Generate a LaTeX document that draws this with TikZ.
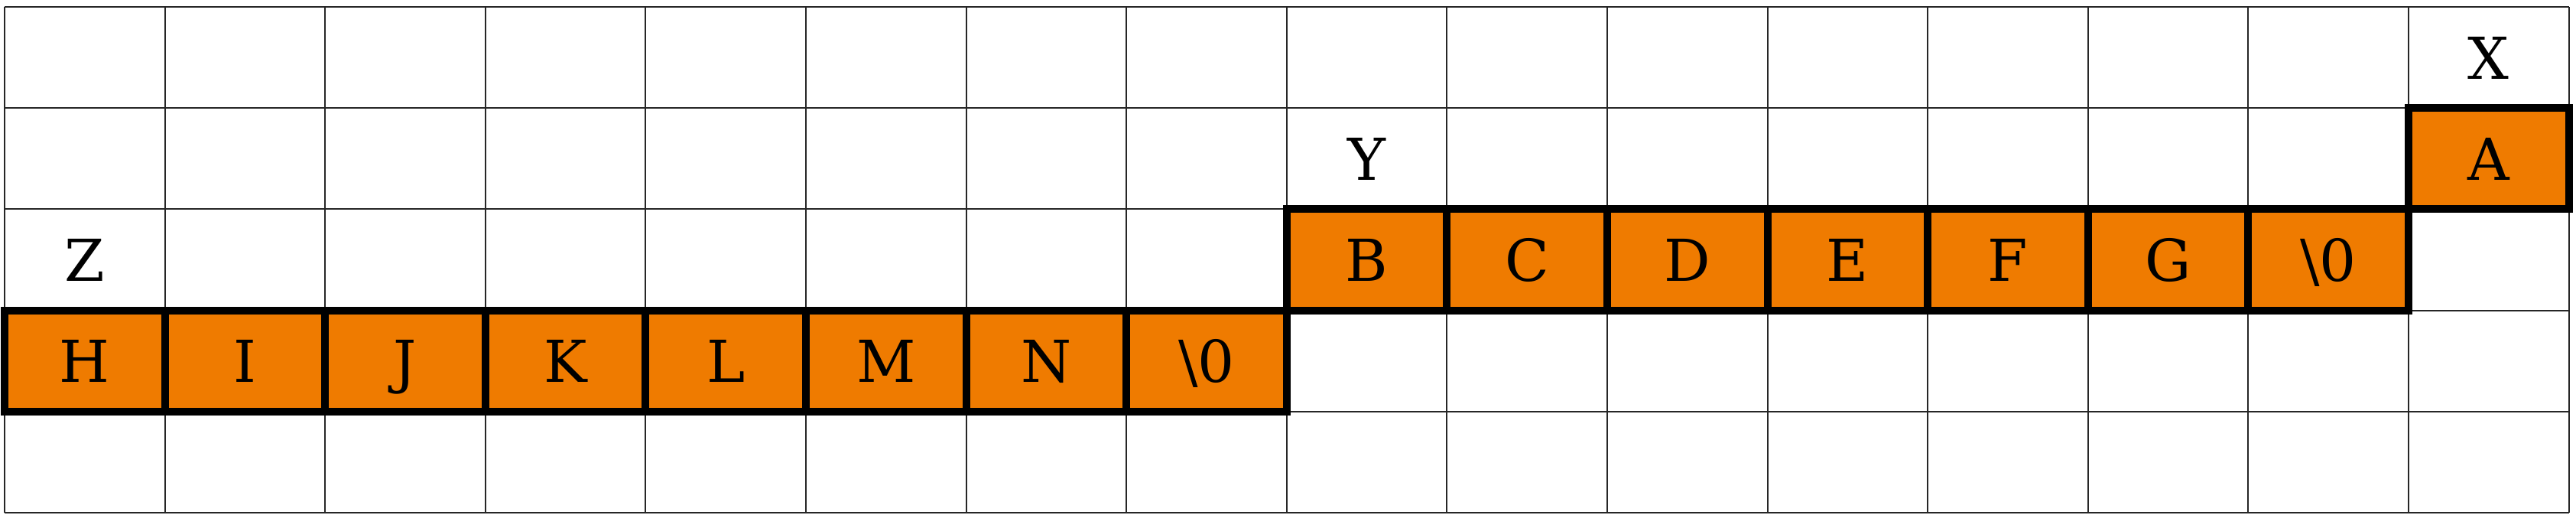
\documentclass[tikz,border=0pt]{standalone}
\usepackage{fontspec}
\setmainfont{DejaVu Serif}
\usepackage{xcolor}
\usetikzlibrary{positioning}
\definecolor{cellorange}{RGB}{239,123,0}

\begin{document}
\begin{tikzpicture}
\tikzset{strcell/.style={rectangle,draw,fill=cellorange,line width=0.1cm,minimum width=2.096cm,minimum height=1.322cm,inner sep=0pt,outer sep=0pt,text height=15.9pt,text depth=0pt,font=\fontsize{21.5}{26}\selectfont},
ptrlabel/.style={inner sep=0pt,text height=15.9pt,text depth=0pt,font=\fontsize{21.5}{26}\selectfont}}
\useasboundingbox (0,0) rectangle (33.69,6.72);
\begin{scope}[shift={(0.06,0.02)},x=2.096cm,y=1.322cm]
\foreach \c in {0,...,16} \draw[line width=0.02cm,black!85] (\c,0) -- (\c,5);
\foreach \r in {0,...,5} \draw[line width=0.02cm,black!85] (0,\r) -- (16,\r);
% string at X
\node[strcell](a) at (15.5,3.5){A};
\node[ptrlabel](x) at (15.5,4.5){X};
% string at Y
\node[strcell](b) at (8.5,2.5){B};
\node[strcell](c)[right=0pt of b]{C};
\node[strcell](d)[right=0pt of c]{D};
\node[strcell](e)[right=0pt of d]{E};
\node[strcell](f)[right=0pt of e]{F};
\node[strcell](g)[right=0pt of f]{G};
\node[strcell](g0)[right=0pt of g]{\textbackslash 0};
\node[ptrlabel](y) at (8.5,3.5){Y};
% string at Z
\node[strcell](h) at (0.5,1.5){H};
\node[strcell](i)[right=0pt of h]{I};
\node[strcell](j)[right=0pt of i]{J};
\node[strcell](k)[right=0pt of j]{K};
\node[strcell](l)[right=0pt of k]{L};
\node[strcell](m)[right=0pt of l]{M};
\node[strcell](n)[right=0pt of m]{N};
\node[strcell](n0)[right=0pt of n]{\textbackslash 0};
\node[ptrlabel](z) at (0.5,2.5){Z};
\end{scope}
\end{tikzpicture}
\end{document}
